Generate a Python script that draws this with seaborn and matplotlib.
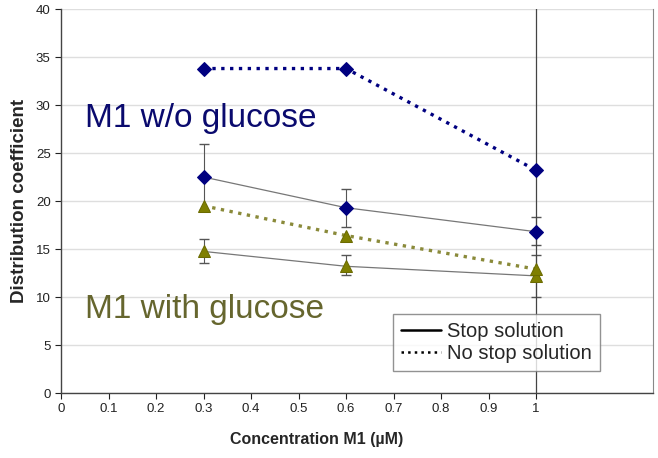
import numpy as np
import pandas as pd
import seaborn as sns
import matplotlib.pyplot as plt
from matplotlib.lines import Line2D

# Values
conc = [0.3, 0.6, 1.0]

wo_stop = [22.5, 19.3, 16.8]
wo_stop_lo = [3.4, 2.0, 1.4]
wo_stop_hi = [3.4, 2.0, 1.5]

wo_nostop = [33.8, 33.8, 23.2]
wo_nostop_lo = [0.0, 0.0, 23.2]
wo_nostop_hi = [0.0, 0.0, 20.0]

with_stop = [14.75, 13.2, 12.2]
with_stop_lo = [1.2, 0.9, 2.2]
with_stop_hi = [1.25, 1.2, 2.2]

with_nostop = [19.5, 16.4, 12.9]

navy = '#000080'
olive = '#7f7f00'

sns.set_style('white')
plt.rcParams['font.family'] = ['Liberation Sans', 'DejaVu Sans']

fig = plt.figure(figsize=(6.58, 4.58), dpi=100)
ax = fig.add_axes([0.0927, 0.1419, 0.8997, 0.8384])

# error bars first so markers sit on top
ax.errorbar(conc, wo_stop, yerr=[wo_stop_lo, wo_stop_hi], fmt='none',
            ecolor='#555555', elinewidth=0.8, capsize=3.5, zorder=2)
ax.errorbar(conc, with_stop, yerr=[with_stop_lo, with_stop_hi], fmt='none',
            ecolor='#555555', elinewidth=0.8, capsize=3.5, zorder=2)
ax.errorbar(conc, wo_nostop, yerr=[wo_nostop_lo, wo_nostop_hi], fmt='none',
            ecolor='#444444', elinewidth=0.9, capsize=0, zorder=2)

df = pd.DataFrame({'conc': conc, 'wo_stop': wo_stop, 'wo_nostop': wo_nostop,
                   'with_stop': with_stop, 'with_nostop': with_nostop})

sns.lineplot(data=df, x='conc', y='wo_stop', ax=ax, color='#777777', lw=0.9,
             marker='D', markersize=7.5, markerfacecolor=navy, markeredgecolor=navy, zorder=3)
sns.lineplot(data=df, x='conc', y='with_stop', ax=ax, color='#777777', lw=0.9,
             marker='^', markersize=9, markerfacecolor=olive, markeredgecolor='#6b6b00', zorder=3)
sns.lineplot(data=df, x='conc', y='wo_nostop', ax=ax, color=navy, lw=2.4, linestyle=':',
             marker='D', markersize=7.5, markerfacecolor=navy, markeredgecolor=navy, zorder=4)
sns.lineplot(data=df, x='conc', y='with_nostop', ax=ax, color='#8a8a3a', lw=2.4, linestyle=':',
             marker='^', markersize=9, markerfacecolor=olive, markeredgecolor='#6b6b00', zorder=4)

ax.set_xlim(0, 1.246)
ax.set_ylim(0, 40)
ax.set_xticks(np.arange(0, 1.01, 0.1))
ax.set_xticklabels(['0', '0.1', '0.2', '0.3', '0.4', '0.5', '0.6', '0.7', '0.8', '0.9', '1'])
ax.set_yticks(range(0, 41, 5))
ax.yaxis.grid(True, color='#dedede', lw=1)
ax.set_axisbelow(True)
ax.tick_params(axis='both', labelsize=9.5, colors='#222222', length=4, width=0.8,
               direction='out', bottom=True, left=True)

for side in ['left', 'bottom']:
    ax.spines[side].set_color('#444444')
    ax.spines[side].set_linewidth(1)
ax.spines['top'].set_visible(False)
ax.spines['right'].set_color('#888888')
ax.spines['right'].set_linewidth(0.8)

ax.set_xlabel('Concentration M1 (µM)', fontsize=11.5, fontweight='bold')
ax.xaxis.set_label_coords(0.431, -0.102)
ax.set_ylabel('Distribution coefficient', fontsize=13.5, fontweight='bold')
ax.yaxis.set_label_coords(-0.056, 0.5)

ax.text(0.05, 27.7, 'M1 w/o glucose', color='#0a0a6e', fontsize=24)
ax.text(0.05, 7.8, 'M1 with glucose', color='#66662e', fontsize=24)

handles = [Line2D([], [], color='black', lw=1.8, linestyle='-'),
           Line2D([], [], color='black', lw=1.8, linestyle=':')]
leg = ax.legend(handles, ['Stop solution', 'No stop solution'], loc='lower left',
                bbox_to_anchor=(0.561, 0.057), borderaxespad=0, fontsize=14.5,
                frameon=True, fancybox=False, handlelength=2.0, handletextpad=0.3,
                borderpad=0.4, labelspacing=0.15)
leg.get_frame().set_edgecolor('#777777')
leg.get_frame().set_linewidth(1)

fig.savefig('out.png', dpi=100)
